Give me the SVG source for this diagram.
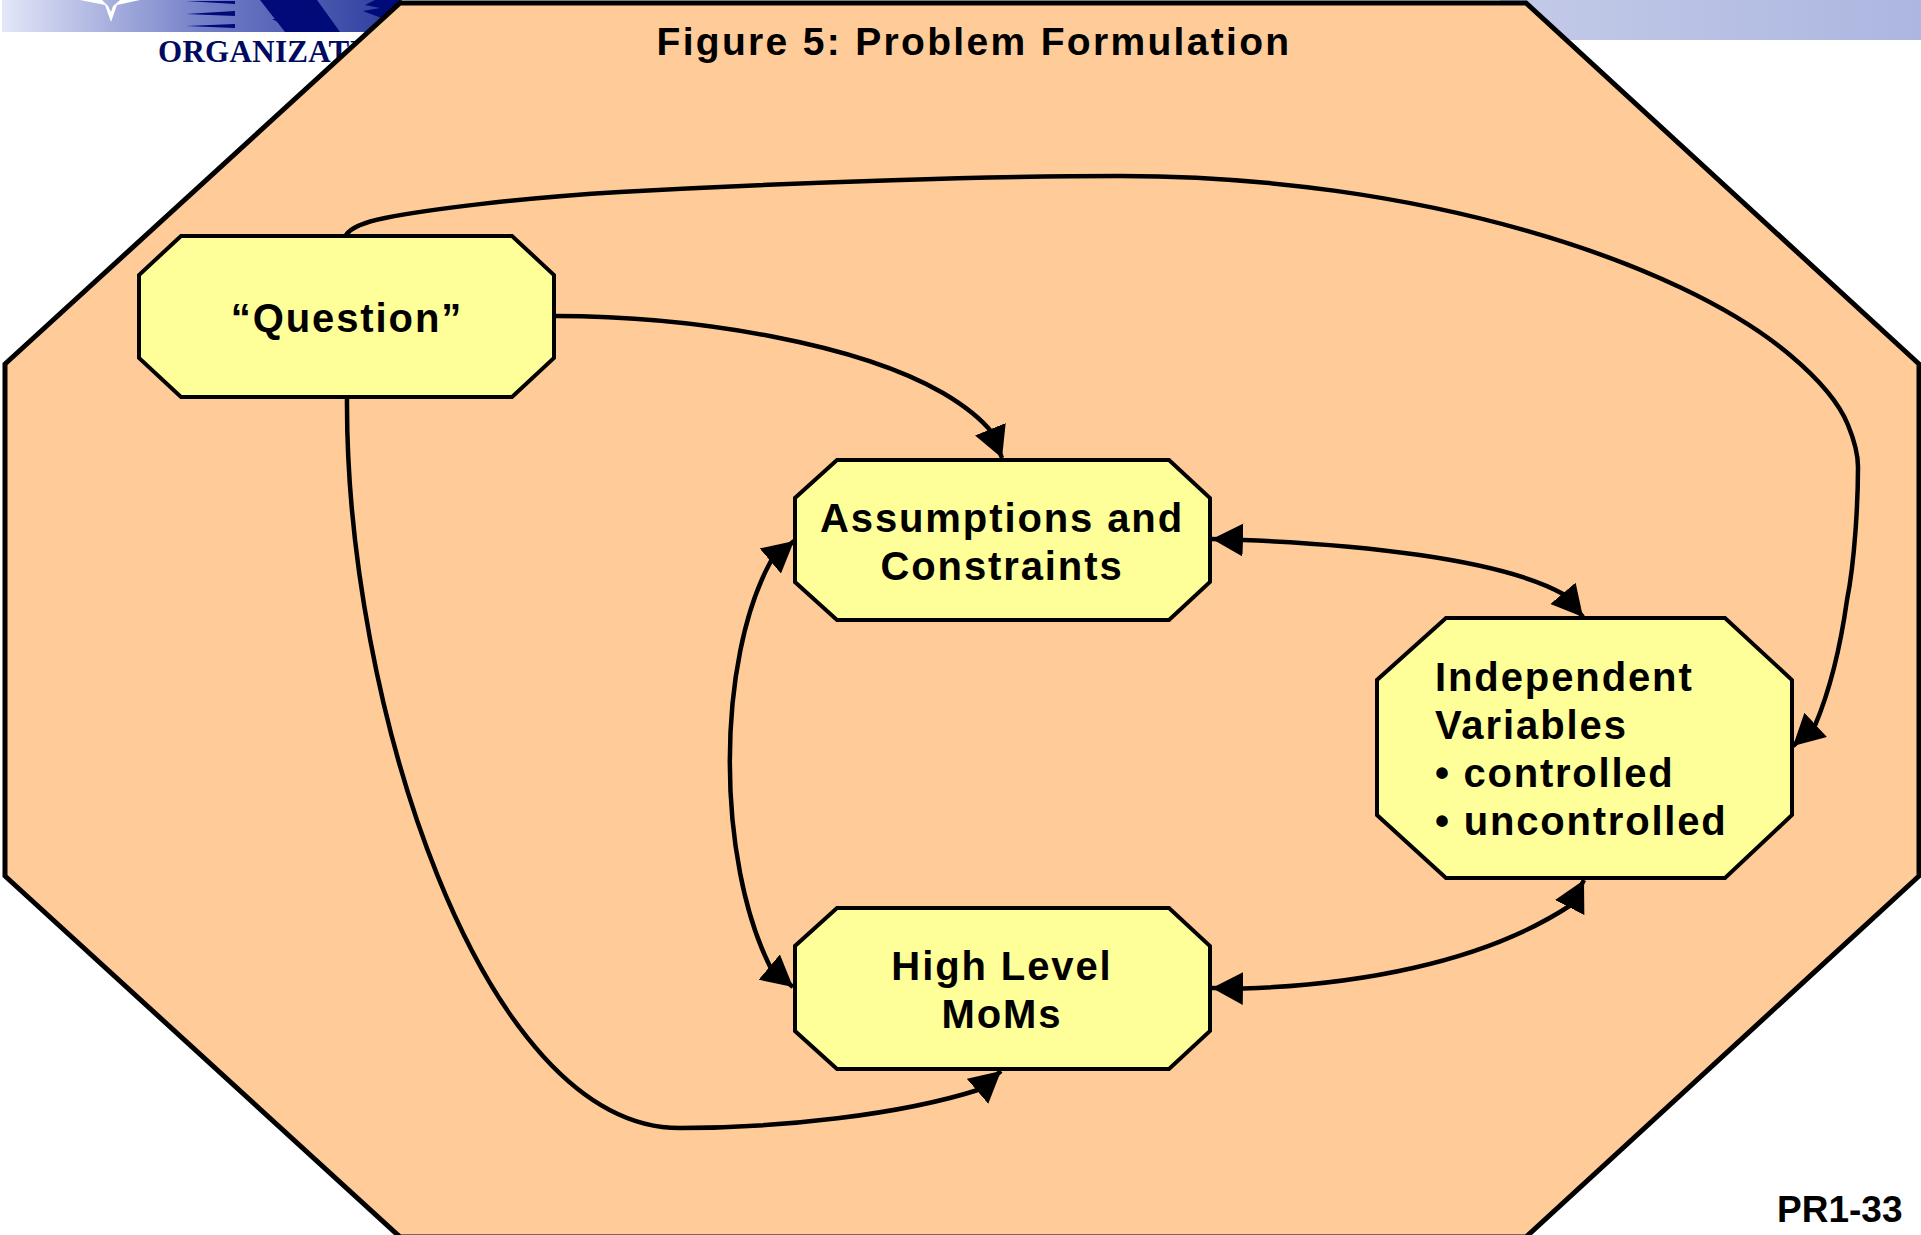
<svg xmlns="http://www.w3.org/2000/svg" width="1921" height="1235" viewBox="0 0 1921 1235">
<style>
.n{fill:#ffff99;stroke:#000;stroke-width:4}
.t{font-family:"Liberation Sans",Arial,sans-serif;font-weight:700;font-size:40px;letter-spacing:1.9px;fill:#000}
.c{fill:none;stroke:#000;stroke-width:4.5}
.d{fill:#000a78}
</style>
<defs>
<linearGradient id="b" x1="0" x2="1" y1="0" y2="0"><stop offset="0" stop-color="#e4e7f8"/><stop offset="0.5" stop-color="#7480c8"/><stop offset="1" stop-color="#2a3a9c"/></linearGradient>
<linearGradient id="r" x1="0" x2="1" y1="0" y2="0"><stop offset="0" stop-color="#c4cbe8"/><stop offset="1" stop-color="#acb6e0"/></linearGradient>
<marker id="a" markerUnits="userSpaceOnUse" markerWidth="34" markerHeight="34" refX="31" refY="16.5" orient="auto"><path d="M0 0L31 16.5L0 33Z" fill="#000"/></marker>
<marker id="s" markerUnits="userSpaceOnUse" markerWidth="34" markerHeight="34" refX="31" refY="16.5" orient="auto-start-reverse"><path d="M0 0L31 16.5L0 33Z" fill="#000"/></marker>
</defs>
<g id="banner">
<rect x="2" y="0" width="400" height="32" fill="url(#b)"/>
<rect x="1500" y="0" width="421" height="40" fill="url(#r)"/>
<path class="d" d="M260 0H317L340 32H285Z"/>
<path class="d" d="M282 4H296L284 7ZM272 19H296L278 22Z"/>
<path class="d" d="M186 1H235V4H235ZM186 14L235 11V16ZM186 26L235 24V28Z"/>
<path class="d" d="M400 0V25L363 11L380 8L365 5L375 0Z"/>
<path d="M80 0L105 5L111 22L117 5L140 0H120L113 6L111 12L108 6L102 0Z" fill="#fff"/>
<text x="158" y="62" font-family="Liberation Serif,serif" font-weight="700" font-size="31" letter-spacing="0.3" fill="#000a60">ORGANIZATION</text>
</g>
<g id="frame"><polygon points="400,3 1526,3 1919,364 1919,876 1526,1237 400,1237 5,876 5,364" fill="#ffcc99" stroke="#000" stroke-width="5"/></g>
<text class="t" x="974" y="54.5" text-anchor="middle" style="font-size:39px;letter-spacing:2.32px">Figure 5: Problem Formulation</text>
<g id="connectors">
<path class="c" marker-end="url(#a)" d="M346 235C352 226 370 221 385 218C430 209 520 198 620 192C800 182 1000 176 1120 176C1420 176 1680 262 1790 355C1815 376 1838 400 1848 425C1855 442 1858 455 1858 467C1858 500 1855 560 1847 600C1840 650 1830 690 1815 725.5L1793 746"/>
<path class="c" marker-end="url(#a)" d="M555 316C700 316 860 345 943 393C965 406 982 420 991.5 432L1002 458"/>
<path class="c" marker-end="url(#a)" d="M347 397C345 700 480 1128 680 1128C780 1128 900 1115 979.5 1089.5L1001 1071"/>
<path class="c" marker-start="url(#s)" marker-end="url(#s)" d="M1212 539L1243 540C1350 544 1500 558 1564 594.5L1583 617"/>
<path class="c" marker-start="url(#s)" marker-end="url(#s)" d="M1212 988L1243 988.5C1350 985 1480 965 1571 905L1584 880"/>
<path class="c" marker-start="url(#s)" marker-end="url(#s)" d="M794 541L771.5 560C716 660 716 860 771 968.5L793 987"/>
</g>
<g id="question"><polygon class="n" points="181,236 512,236 554,275 554,358 512,397 181,397 139,358 139,275"/><text class="t" x="347" y="332" text-anchor="middle">“Question”</text></g>
<g id="assumptions"><polygon class="n" points="837,460 1169,460 1210,498 1210,582 1169,620 837,620 795,582 795,498"/><text class="t" x="1002" y="532" text-anchor="middle">Assumptions and</text><text class="t" x="1002" y="580" text-anchor="middle">Constraints</text></g>
<g id="moms"><polygon class="n" points="837,908 1169,908 1210,946 1210,1031 1169,1069 837,1069 795,1031 795,946"/><text class="t" x="1002" y="980" text-anchor="middle">High Level</text><text class="t" x="1002" y="1028" text-anchor="middle">MoMs</text></g>
<g id="variables"><polygon class="n" points="1446,618 1725,618 1792,680 1792,815 1725,878 1446,878 1377,815 1377,680"/><text class="t" x="1435" y="691">Independent</text><text class="t" x="1435" y="739">Variables</text><text class="t" x="1435" y="787" style="letter-spacing:1.75px">• controlled</text><text class="t" x="1435" y="835" style="letter-spacing:1.8px">• uncontrolled</text></g>
<text x="1777" y="1222" font-family="Liberation Sans,sans-serif" font-weight="700" font-size="37">PR1-33</text>
</svg>
